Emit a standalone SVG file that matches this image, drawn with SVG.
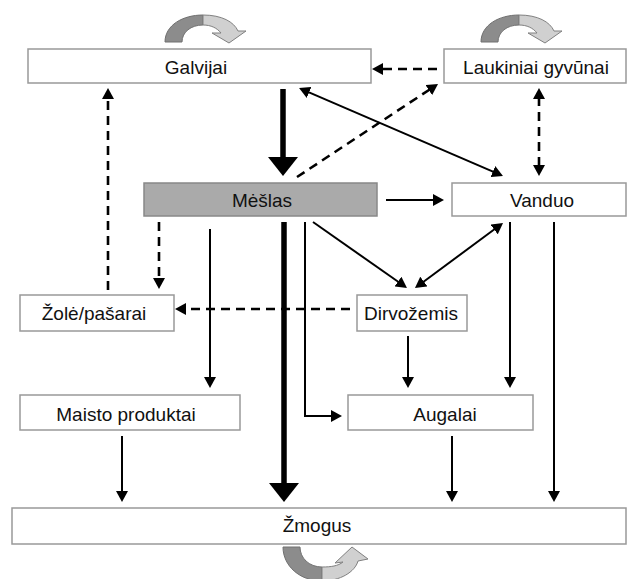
<svg xmlns="http://www.w3.org/2000/svg" width="627" height="579" viewBox="0 0 627 579">
<style>
.box{fill:#fff;stroke:#999;stroke-width:1.5}
.grey{fill:#aaa;stroke:#888;stroke-width:1.5}
.t{font-family:"Liberation Sans",Arial,sans-serif;font-size:19px;fill:#111;text-anchor:middle}
.s{fill:none;stroke:#000;stroke-width:2}
.d{fill:none;stroke:#000;stroke-width:2.6;stroke-dasharray:9 6}
.k{fill:none;stroke:#000;stroke-width:5.5}
.dk{fill:#8c8c8c;stroke:#707070;stroke-width:1}
.lt{fill:#d0d0d0;stroke:#808080;stroke-width:1}
</style>
<defs>
<marker id="a" markerUnits="userSpaceOnUse" markerWidth="12" markerHeight="12" refX="2" refY="6" orient="auto-start-reverse"><path d="M0,0 L11,6 L0,12 Z" fill="#000"/></marker>
<marker id="b" markerUnits="userSpaceOnUse" markerWidth="20" markerHeight="30" refX="2" refY="15" orient="auto"><path d="M0,0 L19,15 L0,30 Z" fill="#000"/></marker>
<g id="curl"><path class="dk" d="M165,42 C165,25 183,15 203,15 L203,25 C191,25 182,32 182,42 Z"/><path class="lt" d="M203,15 C222,15 234,22 238,31 L246,31 L229,43 L212,33 L221,33 C217,28 211,25 203,25 Z"/></g>
</defs>
<g id="loops">
<use href="#curl"/>
<use href="#curl" transform="translate(316,0)"/>
<path class="dk" d="M283,547 C283,566 300,581 322,581 L322,567 C309,567 300,558 300,547 Z"/>
<path class="lt" d="M322,581 C340,581 355,572 358,561 L368,559 L352,547 L335,563 L343,562 C338,566 331,567 322,567 Z"/>
</g>
<g id="connectors">
<line class="k" x1="283" y1="89" x2="283" y2="159" marker-end="url(#b)"/>
<line class="k" x1="284" y1="222" x2="284" y2="485" marker-end="url(#b)"/>
<line class="s" x1="386" y1="200" x2="435" y2="200" marker-end="url(#a)"/>
<line class="s" x1="210" y1="229" x2="210" y2="379" marker-end="url(#a)"/>
<line class="s" x1="408" y1="336" x2="408" y2="379" marker-end="url(#a)"/>
<line class="s" x1="510" y1="222" x2="510" y2="379" marker-end="url(#a)"/>
<line class="s" x1="554" y1="222" x2="554" y2="493" marker-end="url(#a)"/>
<line class="s" x1="122" y1="436" x2="122" y2="493" marker-end="url(#a)"/>
<line class="s" x1="452" y1="436" x2="452" y2="493" marker-end="url(#a)"/>
<path class="s" d="M305,222 V416 H333" marker-end="url(#a)"/>
<line class="s" x1="313" y1="222" x2="399.6" y2="282.8" marker-end="url(#a)"/>
<line class="s" x1="422.2" y1="282.7" x2="495.8" y2="228.3" marker-start="url(#a)" marker-end="url(#a)"/>
<line class="s" x1="307.3" y1="91.6" x2="494.7" y2="172.4" marker-start="url(#a)" marker-end="url(#a)"/>
<line class="d" x1="437" y1="69" x2="381" y2="69" marker-end="url(#a)"/>
<line class="d" x1="297" y1="177" x2="430.5" y2="89" marker-end="url(#a)"/>
<line class="d" x1="539" y1="97" x2="539" y2="167" marker-start="url(#a)" marker-end="url(#a)"/>
<line class="d" x1="108" y1="290" x2="108" y2="97" marker-end="url(#a)"/>
<line class="d" x1="159" y1="222" x2="159" y2="280" marker-end="url(#a)"/>
<line class="d" x1="350" y1="309" x2="184" y2="309" marker-end="url(#a)"/>
</g>
<g id="galvijai"><rect class="box" x="28" y="49" width="343" height="34"/><text class="t" x="196" y="74">Galvijai</text></g>
<g id="laukiniai"><rect class="box" x="444" y="49" width="182" height="34"/><text class="t" x="536" y="74">Laukiniai gyvūnai</text></g>
<g id="meslas"><rect class="grey" x="144" y="183" width="233" height="33"/><text class="t" x="262" y="207">Mėšlas</text></g>
<g id="vanduo"><rect class="box" x="452" y="183" width="174" height="33"/><text class="t" x="542" y="207">Vanduo</text></g>
<g id="zole"><rect class="box" x="20" y="295" width="154" height="36"/><text class="t" x="94" y="320">Žolė/pašarai</text></g>
<g id="dirvozemis"><rect class="box" x="357" y="295" width="110" height="36"/><text class="t" x="411" y="320">Dirvožemis</text></g>
<g id="maisto"><rect class="box" x="20" y="395" width="220" height="35"/><text class="t" x="126" y="421">Maisto produktai</text></g>
<g id="augalai"><rect class="box" x="348" y="395" width="185" height="35"/><text class="t" x="445" y="421">Augalai</text></g>
<g id="zmogus"><rect class="box" x="12" y="508" width="614" height="36"/><text class="t" x="317" y="532">Žmogus</text></g>
</svg>
